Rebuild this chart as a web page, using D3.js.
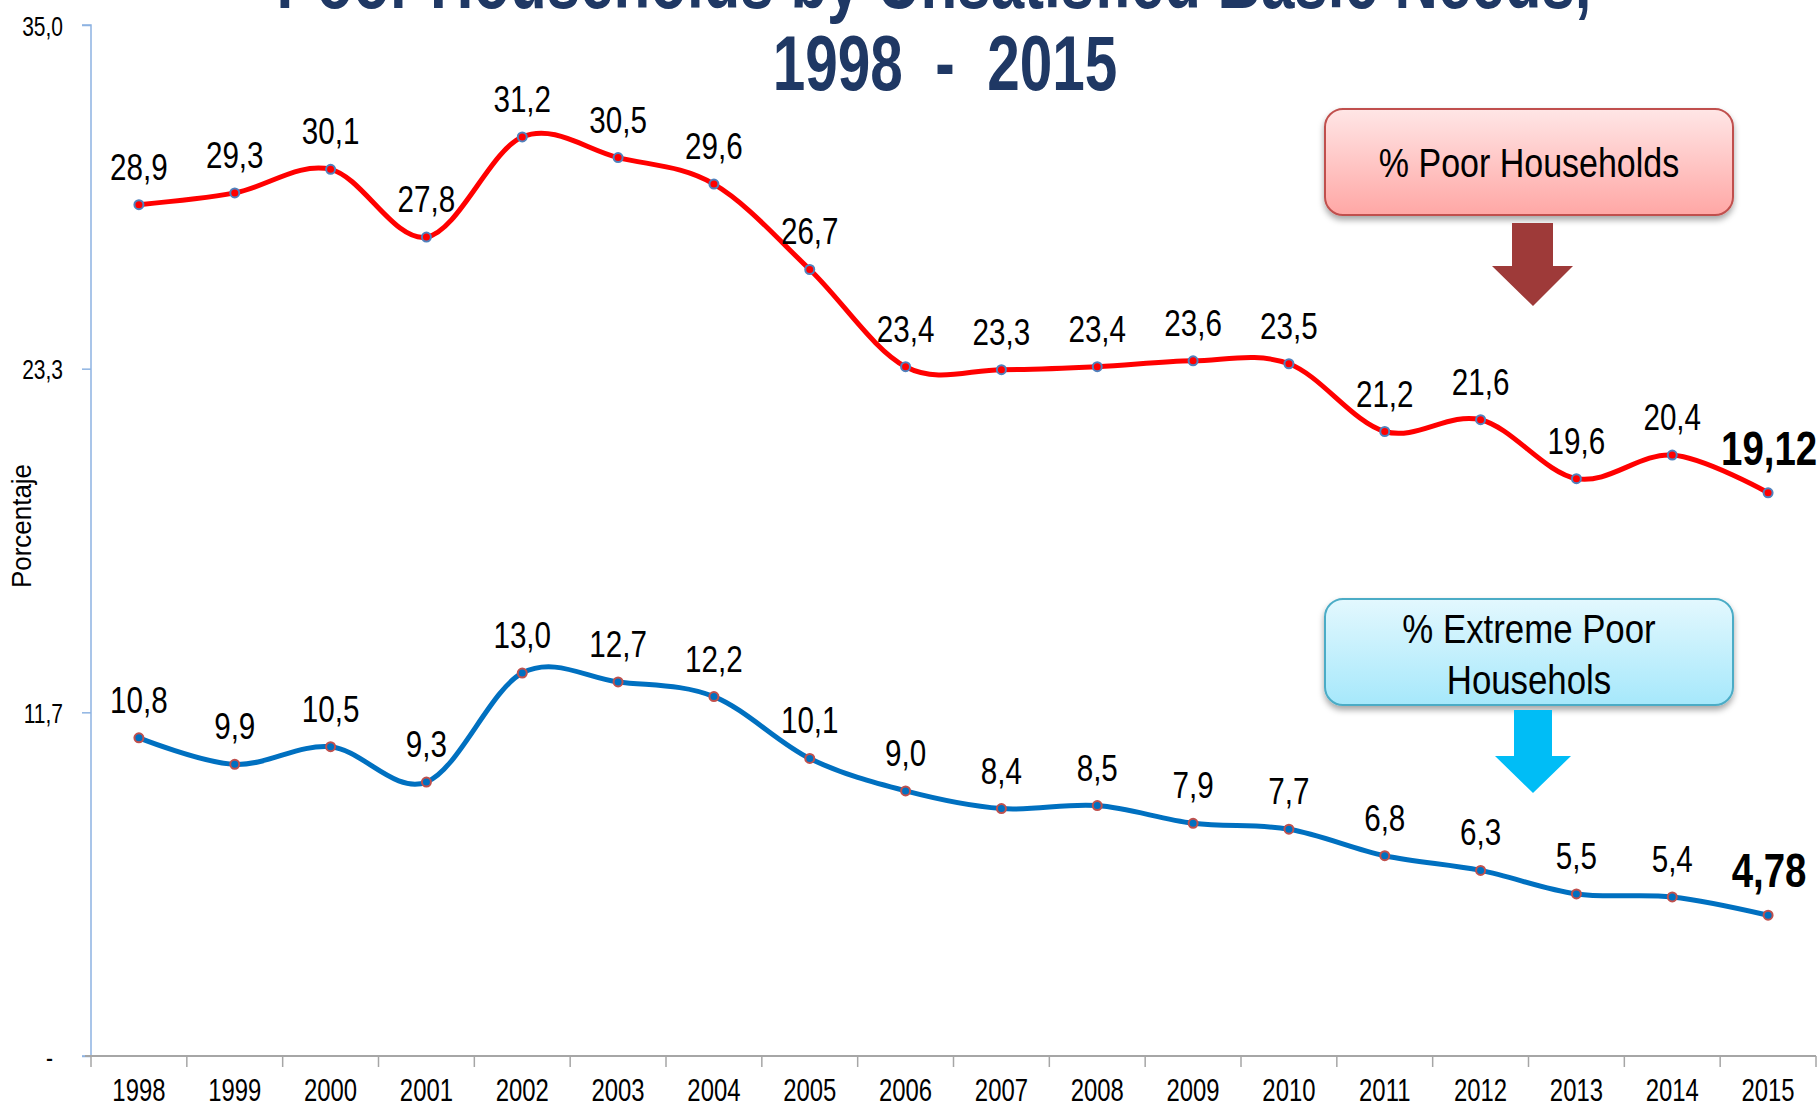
<!DOCTYPE html>
<html>
<head>
<meta charset="utf-8">
<script src="https://cdn.jsdelivr.net/npm/d3@7/dist/d3.min.js"></script>
<style>
  body { margin: 0; background: #fff; }
  svg text { font-family: "Liberation Sans", Arial, sans-serif; }
</style>
</head>
<body>
<div id="chart"></div>
<script>
// chart data
const years = ["1998","1999","2000","2001","2002","2003","2004","2005","2006",
               "2007","2008","2009","2010","2011","2012","2013","2014","2015"];
const poorHouseholds = [28.9, 29.3, 30.1, 27.8, 31.2, 30.5, 29.6, 26.7, 23.4,
                        23.3, 23.4, 23.6, 23.5, 21.2, 21.6, 19.6, 20.4, 19.12];
const extremePoor = [10.8, 9.9, 10.5, 9.3, 13.0, 12.7, 12.2, 10.1, 9.0,
                     8.4, 8.5, 7.9, 7.7, 6.8, 6.3, 5.5, 5.4, 4.78];
const yTicks = [0, 35 / 3, 70 / 3, 35];
const yTickLabels = ["-", "11,7", "23,3", "35,0"];

const width = 1820, height = 1108;
const plot = {left: 91, right: 1816, top: 25, bottom: 1056};

let svg = d3.select("#chart")
    .append("svg")
    .attr("width", width)
    .attr("height", height);

// the original uses a condensed face, so squeeze text horizontally
function narrowText(parent, x, y, str, size, sx, anchor) {
  return parent.append("text")
      .attr("transform", `translate(${x},${y}) scale(${sx},1)`)
      .attr("text-anchor", anchor || "middle")
      .style("font-size", size + "px")
      .text(str);
}

let defs = svg.append("defs");
let shadow = defs.append("filter").attr("id", "shadow")
    .attr("x", "-10%").attr("y", "-10%").attr("width", "120%").attr("height", "140%");
shadow.append("feDropShadow")
    .attr("dx", 0).attr("dy", 4).attr("stdDeviation", 3)
    .attr("flood-color", "#000").attr("flood-opacity", 0.35);

let gradPink = defs.append("linearGradient").attr("id", "gradPink")
    .attr("x1", 0).attr("y1", 0).attr("x2", 0).attr("y2", 1);
gradPink.append("stop").attr("offset", "0%").attr("stop-color", "#ffe6e6");
gradPink.append("stop").attr("offset", "100%").attr("stop-color", "#ffa7a5");

let gradBlue = defs.append("linearGradient").attr("id", "gradBlue")
    .attr("x1", 0).attr("y1", 0).attr("x2", 0).attr("y2", 1);
gradBlue.append("stop").attr("offset", "0%").attr("stop-color", "#e3f8fe");
gradBlue.append("stop").attr("offset", "100%").attr("stop-color", "#a6e8fb");

let x = d3.scaleBand()
    .domain(years)
    .range([plot.left, plot.right]);

let y = d3.scaleLinear()
    .domain([0, 35])
    .range([plot.bottom, plot.top]);

const cx = d => x(d) + x.bandwidth() / 2;

// y axis
let yAxis = svg.append("g")
    .attr("transform", `translate(${plot.left}, 0)`)
    .call(d3.axisLeft(y).tickValues(yTicks).tickSize(9)
        .tickFormat((d, i) => yTickLabels[i]));
yAxis.select(".domain").attr("stroke", "#8db3e2").attr("stroke-width", 1.5)
    .attr("d", `M-9,${plot.top}H0V${plot.bottom}H-9`);
yAxis.selectAll(".tick line").attr("stroke", "#8db3e2").attr("stroke-width", 1.5);
yAxis.selectAll(".tick text")
    .attr("x", 0)
    .attr("dy", "0.36em")
    .attr("transform", (d, i) => `translate(${i === 0 ? -38 : -28},0) scale(0.75,1)`)
    .style("font-size", "28px")
    .attr("fill", "#000");

// x axis
let xAxis = svg.append("g")
    .attr("transform", `translate(0, ${plot.bottom})`)
    .call(d3.axisBottom(x).tickSize(0));
xAxis.select(".domain").attr("stroke", "#a6a6a6").attr("stroke-width", 2)
    .attr("d", `M${plot.left - 6},0H${plot.right}`);
xAxis.selectAll(".tick text")
    .attr("y", 45).attr("dy", 0)
    .attr("transform", "scale(0.77,1)")
    .style("font-size", "31px").attr("fill", "#000");
xAxis.selectAll(".sep")
    .data(years.concat(["end"]))
    .enter()
    .append("line")
    .attr("class", "sep")
    .attr("x1", (d, i) => i < years.length ? x(d) : plot.right)
    .attr("x2", (d, i) => i < years.length ? x(d) : plot.right)
    .attr("y1", 0).attr("y2", 11)
    .attr("stroke", "#a6a6a6").attr("stroke-width", 1.5);

// axis title
svg.append("text")
    .attr("transform", `translate(31, 526) rotate(-90)`)
    .attr("text-anchor", "middle")
    .attr("textLength", 124)
    .attr("lengthAdjust", "spacingAndGlyphs")
    .style("font-size", "27px")
    .text("Porcentaje");

// chart title
narrowText(svg, 934, 8, "Poor Households by Unsatisfied Basic Needs,", 78, 0.77)
    .attr("fill", "#1f3864").style("font-weight", "bold");
narrowText(svg, 945, 90, "1998  -  2015", 78, 0.75)
    .attr("fill", "#1f3864").style("font-weight", "bold")
    .style("white-space", "pre");

// series
const series = [
  {values: poorHouseholds, line: "#ff0000", fill: "#ff0000", stroke: "#4f81bd"},
  {values: extremePoor, line: "#0070c0", fill: "#0070c0", stroke: "#c0504d"}
];

let line = d3.line()
    .x((d, i) => cx(years[i]))
    .y(d => y(d))
    .curve(d3.curveCardinal.tension(0));

const last = years.length - 1;
const fmt = (v, i) => (i === last ? d3.format(".2f")(v) : d3.format(".1f")(v)).replace(".", ",");

series.forEach(s => {
  svg.append("path")
      .datum(s.values)
      .attr("fill", "none")
      .attr("stroke", s.line)
      .attr("stroke-width", 5)
      .attr("d", line);

  svg.append("g").selectAll("circle")
      .data(s.values)
      .enter()
      .append("circle")
      .attr("cx", (d, i) => cx(years[i]))
      .attr("cy", d => y(d))
      .attr("r", 4.5)
      .attr("fill", s.fill)
      .attr("stroke", s.stroke)
      .attr("stroke-width", 2);

  svg.append("g").selectAll("text")
      .data(s.values)
      .enter()
      .append("text")
      .attr("transform", (d, i) =>
          `translate(${cx(years[i]) + (i === last ? 1 : 0)},${y(d) - (i === last ? 28 : 25)}) scale(0.8,1)`)
      .attr("text-anchor", "middle")
      .style("font-size", (d, i) => i === last ? "48px" : "37px")
      .style("font-weight", (d, i) => i === last ? "bold" : "normal")
      .text((d, i) => fmt(d, i));
});

// callout boxes
svg.append("rect")
    .attr("x", 1325).attr("y", 109).attr("width", 408).attr("height", 106)
    .attr("rx", 18)
    .attr("fill", "url(#gradPink)")
    .attr("stroke", "#c0504d").attr("stroke-width", 2)
    .attr("filter", "url(#shadow)");
narrowText(svg, 1529, 177, "% Poor Households", 40, 0.85);
svg.append("path")
    .attr("d", "M1512,223H1553V266H1573L1533,306L1492,266H1512Z")
    .attr("fill", "#9e3a39");

svg.append("rect")
    .attr("x", 1325).attr("y", 599).attr("width", 408).attr("height", 106)
    .attr("rx", 18)
    .attr("fill", "url(#gradBlue)")
    .attr("stroke", "#4bacc6").attr("stroke-width", 2)
    .attr("filter", "url(#shadow)");
narrowText(svg, 1529, 643, "% Extreme Poor", 40, 0.87);
narrowText(svg, 1529, 694, "Househols", 40, 0.87);
svg.append("path")
    .attr("d", "M1514,710H1552V756H1571L1533,793L1495,756H1514Z")
    .attr("fill", "#00bdf6");
</script>
</body>
</html>
